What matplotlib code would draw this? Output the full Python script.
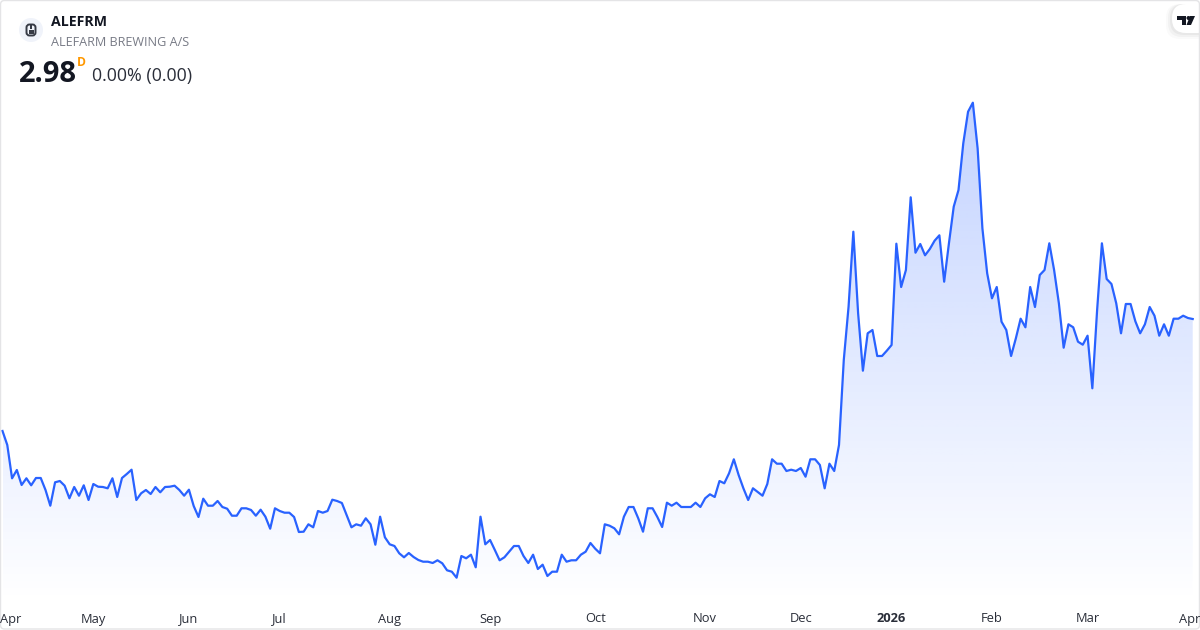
import matplotlib
matplotlib.use("Agg")
import matplotlib.pyplot as plt
import numpy as np
from matplotlib.patches import Circle, FancyBboxPatch, Polygon, Rectangle

symbol = "ALEFRM"
company = "ALEFARM BREWING A/S"
last_price = "2.98"
change = "0.00% (0.00)"

# daily closes
closes = [
    1.86, 1.72, 1.387, 1.47, 1.32, 1.387, 1.317, 1.39, 1.39, 1.27,
    1.113, 1.347, 1.36, 1.313, 1.187, 1.30, 1.213, 1.317, 1.17, 1.33,
    1.303, 1.30, 1.287, 1.387, 1.20, 1.39, 1.43, 1.473, 1.17, 1.237,
    1.27, 1.23, 1.30, 1.247, 1.30, 1.303, 1.313, 1.27, 1.213, 1.273,
    1.11, 1.00, 1.183, 1.113, 1.113, 1.16, 1.10, 1.083, 1.013, 1.013,
    1.087, 1.087, 1.07, 1.013, 1.073, 1.003, 0.883, 1.087, 1.06, 1.043,
    1.043, 1.00, 0.85, 0.853, 0.927, 0.897, 1.06, 1.043, 1.06, 1.173,
    1.16, 1.14, 1.02, 0.897, 0.927, 0.913, 0.987, 0.927, 0.723, 1.003,
    0.797, 0.727, 0.71, 0.637, 0.597, 0.64, 0.60, 0.57, 0.553, 0.553,
    0.54, 0.567, 0.537, 0.467, 0.453, 0.393, 0.61, 0.587, 0.623, 0.497,
    1.003, 0.727, 0.77, 0.67, 0.567, 0.597, 0.653, 0.71, 0.71, 0.61,
    0.54, 0.623, 0.48, 0.523, 0.41, 0.453, 0.453, 0.623, 0.553, 0.567,
    0.567, 0.623, 0.653, 0.74, 0.683, 0.637, 0.927, 0.913, 0.887, 0.827,
    1.003, 1.10, 1.10, 0.987, 0.853, 1.087, 1.087, 1.00, 0.90, 1.143,
    1.113, 1.143, 1.10, 1.10, 1.10, 1.143, 1.10, 1.187, 1.227, 1.20,
    1.36, 1.337, 1.437, 1.577, 1.42, 1.287, 1.17, 1.287, 1.25, 1.213,
    1.33, 1.577, 1.533, 1.533, 1.46, 1.473, 1.46, 1.49, 1.403, 1.577,
    1.577, 1.52, 1.287, 1.533, 1.46, 1.72, 2.57, 3.103, 3.853, 3.037,
    2.463, 2.837, 2.87, 2.61, 2.61, 2.663, 2.72, 3.733, 3.30, 3.47,
    4.197, 3.643, 3.73, 3.617, 3.68, 3.763, 3.817, 3.353, 3.737, 4.103,
    4.27, 4.737, 5.053, 5.143, 4.687, 3.887, 3.437, 3.187, 3.30, 2.953,
    2.87, 2.61, 2.787, 2.983, 2.897, 3.30, 3.10, 3.42, 3.47, 3.737,
    3.47, 3.137, 2.693, 2.927, 2.897, 2.753, 2.723, 2.813, 2.287, 3.07,
    3.737, 3.38, 3.33, 3.137, 2.837, 3.13, 3.13, 2.957, 2.837, 2.927,
    3.10, 3.013, 2.813, 2.927, 2.813, 2.983, 2.983, 3.013, 2.99, 2.98,
]

month_labels = ["Apr", "May", "Jun", "Jul", "Aug", "Sep", "Oct", "Nov", "Dec", "2026", "Feb", "Mar", "Apr"]
month_pos = [1.8, 19, 39, 58, 81, 102, 124, 147, 167, 186, 207, 227, 248.4]

plt.rcParams["font.family"] = ["Open Sans", "Noto Sans", "DejaVu Sans"]

fig = plt.figure(figsize=(12, 6.3), dpi=100)
ax = fig.add_axes([0, 0, 1, 1])

# 4.78 px per bar, first bar at x=2.5; 0.01 price per px
x = np.arange(len(closes))
top = max(closes)
floor = 0.14
grad = np.zeros((256, 2, 4))
grad[..., :3] = np.array([41, 98, 255]) / 255
grad[..., 3] = np.linspace(0.28, 0.0, 256)[:, None]
im = ax.imshow(grad, extent=(x[0], x[-1], floor, top), origin="upper", aspect="auto", zorder=1)
fill = ax.fill_between(x, closes, floor, color="none")
im.set_clip_path(fill.get_paths()[0], transform=ax.transData)
ax.set_xlim(-2.5 / 4.78, 1197.5 / 4.78)
ax.set_ylim(-0.13, 6.17)
ax.axis("off")

ax.plot(x, closes, color="#2962FF", lw=1.6, solid_joinstyle="round", zorder=2)

# header, logo and frame are placed in pixels
ov = fig.add_axes([0, 0, 1, 1])
ov.axis("off")
ov.patch.set_alpha(0)

for lab, p in zip(month_labels, month_pos):
    ov.text(2.5 + 4.78 * p, 622.5, lab, ha="center", va="baseline", fontsize=9.3, color="#2a2e39",
            fontweight="bold" if lab == "2026" else "normal")

ov.add_patch(Circle((31, 30), 12, color="#f0f3fa", lw=0))
ov.add_patch(FancyBboxPatch((27, 25), 8, 10, boxstyle="round,pad=0.5,rounding_size=3",
                            fc="none", ec="#363a45", lw=1.4))
ov.add_patch(Rectangle((28.5, 30), 5, 3.5, color="#363a45", lw=0))
ov.add_patch(Rectangle((30.3, 25), 1.4, 4, color="#363a45", lw=0))

ov.text(51, 22, symbol, fontsize=10.2, fontweight="bold", color="#131722", va="center", ha="left")
ov.text(51, 42.5, company, fontsize=9.1, color="#787b86", va="center", ha="left")
ov.text(19, 74, last_price, fontsize=21, fontweight="bold", color="#131722", va="center", ha="left")
ov.text(77, 62.5, "D", fontsize=8.7, fontweight="bold", color="#ff9800", va="center", ha="left")
ov.text(92, 76.5, change, fontsize=12.9, color="#2a2e39", va="center", ha="left")

# tradingview tab in the corner
for grow, a in zip([6, 4, 2], [0.02, 0.03, 0.04]):
    ov.add_patch(FancyBboxPatch((1172 - grow, 4), 40 + grow, 29 + grow, boxstyle="round,pad=0,rounding_size=14",
                                fc="black", ec="none", alpha=a))
ov.add_patch(FancyBboxPatch((1172, 4), 40, 29, boxstyle="round,pad=0,rounding_size=14", fc="white", ec="none"))
ov.add_patch(Polygon([(1177, 16), (1186, 16), (1186, 25), (1182, 25), (1182, 20), (1177, 20)], color="#131722", lw=0))
ov.add_patch(Polygon([(1190, 16), (1195, 16), (1191, 25), (1186.5, 25)], color="#131722", lw=0))
ov.add_patch(Circle((1188.5, 18), 2, color="#131722", lw=0))

ov.add_patch(FancyBboxPatch((0.5, 0.5), 1199, 628.5, boxstyle="round,pad=0,rounding_size=4",
                            fc="none", ec="#e4e4e6", lw=1))
ov.set_xlim(0, 1200)
ov.set_ylim(630, 0)

fig.savefig("out.png", dpi=100)
